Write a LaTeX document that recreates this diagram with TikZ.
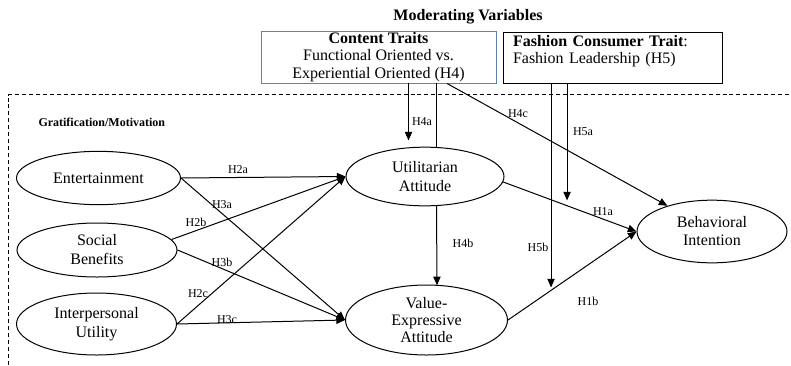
\documentclass[tikz,border=0pt]{standalone}
\usepackage{fontspec}
\setmainfont{Liberation Serif}
\usetikzlibrary{arrows.meta,shapes.geometric,calc}
\definecolor{boxblue}{RGB}{95,130,175}
\begin{document}
\begin{tikzpicture}[x=0.75pt,y=-0.75pt,line width=0.75pt,
  oval/.style={draw,ellipse,inner sep=0pt,align=center,font=\fontsize{12}{14.25}\selectfont},
  hlab/.style={font=\fontsize{9}{10}\selectfont,inner sep=0pt},
  arr/.style={-{Triangle[length=6.5pt,width=5.5pt]}},
  framebox/.style={dashed,line width=0.6pt,dash pattern=on 3pt off 2.2pt}]
\useasboundingbox (0,0) rectangle (791,365);

% moderating boxes
\node[font=\bfseries\fontsize{12}{14}\selectfont,inner sep=0pt] (MV) at (468,17) {Moderating Variables};
\node[draw=boxblue,line width=0.7pt,minimum width=176.25pt,minimum height=39pt,inner sep=0pt,align=center,
      font=\fontsize{12}{13}\selectfont] (CT) at (378.5,57)
      {\textbf{Content Traits}\\Functional Oriented vs.\\Experiential Oriented (H4)};
\node[draw,line width=0.7pt,text width=149.25pt,inner xsep=7.5pt,inner ysep=0pt,minimum height=38.25pt,align=left,
      font=\fontsize{12}{12.5}\selectfont] (FB) at (612.5,57.5)
      {\textbf{Fashion Consumer Trait}:\\Fashion Leadership (H5)\\\mbox{}};

% dashed frame
\draw[framebox] (8.5,365) -- (8.5,94.5) -- (791,94.5);
\node[font=\bfseries\fontsize{9}{10}\selectfont,inner sep=0pt,anchor=west] (GM) at (38,122) {Gratification/Motivation};

% ellipses
\node[oval,minimum width=123pt,minimum height=40pt] (ET) at (98.5,178) {Entertainment};
\node[oval,minimum width=120pt,minimum height=40.5pt] (SB) at (97,250) {Social\\Benefits};
\node[oval,minimum width=120pt,minimum height=46.5pt] (IU) at (96.5,324) {Interpersonal\\Utility};
\node[oval,minimum width=118.5pt,minimum height=44pt] (UA) at (425,176.5) {Utilitarian\\Attitude};
\node[oval,minimum width=121.5pt,minimum height=52.5pt,font=\fontsize{12}{13}\selectfont] (VE) at (426.5,320) {Value-\\Expressive\\Attitude};
\node[oval,minimum width=112.5pt,minimum height=47pt,font=\fontsize{12}{13.5}\selectfont] (BI) at (712,231.5) {Behavioral\\Intention};

% gratification paths
\draw[arr] (ET.east) -- (UA.west);
\draw[arr] (ET.east) -- (VE.west);
\draw[arr] (SB.8) -- (UA.west);
\draw[arr] (SB.east) -- (VE.west);
\draw[arr] (IU.east) -- (UA.west);
\draw[arr] (IU.east) -- (VE.west);

% attitude to intention
\draw[arr] (UA.-4) -- (BI.west);
\draw[arr] (VE.east) -- (BI.west);

% content traits moderation
\draw[arr] ($(CT.south)+(30,0)$) -- ++(0,57);
\draw ($(CT.south)+(58,0)$) -- ($(UA.center)+(11.5,-29.1)$);
\draw[arr] ($(UA.center)+(11.5,29.1)$) -- ($(VE.center)+(10.5,-34.7)$);
\draw[arr] ($(CT.south)+(68.5,0)$) -- (BI.150);

% fashion leadership moderation
\draw[arr] ($(FB.south west)+(64.5,0)$) -- ++(0,117);
\draw[arr] ($(FB.south west)+(48.5,0)$) -- ++(0,204);

% labels
\node[hlab] (l2a) at (238,170) {H2a};
\node[hlab] (l3a) at (222,205) {H3a};
\node[hlab] (l2b) at (196,222) {H2b};
\node[hlab] (l3b) at (222,262) {H3b};
\node[hlab] (l2c) at (198,294) {H2c};
\node[hlab] (l3c) at (227,320) {H3c};
\node[hlab] (l4a) at (422,122) {H4a};
\node[hlab] (l4b) at (463,243) {H4b};
\node[hlab] (l4c) at (518,114) {H4c};
\node[hlab] (l5a) at (583,132) {H5a};
\node[hlab] (l5b) at (538,247) {H5b};
\node[hlab] (l1a) at (603,212) {H1a};
\node[hlab] (l1b) at (588,301) {H1b};
\end{tikzpicture}
\end{document}
